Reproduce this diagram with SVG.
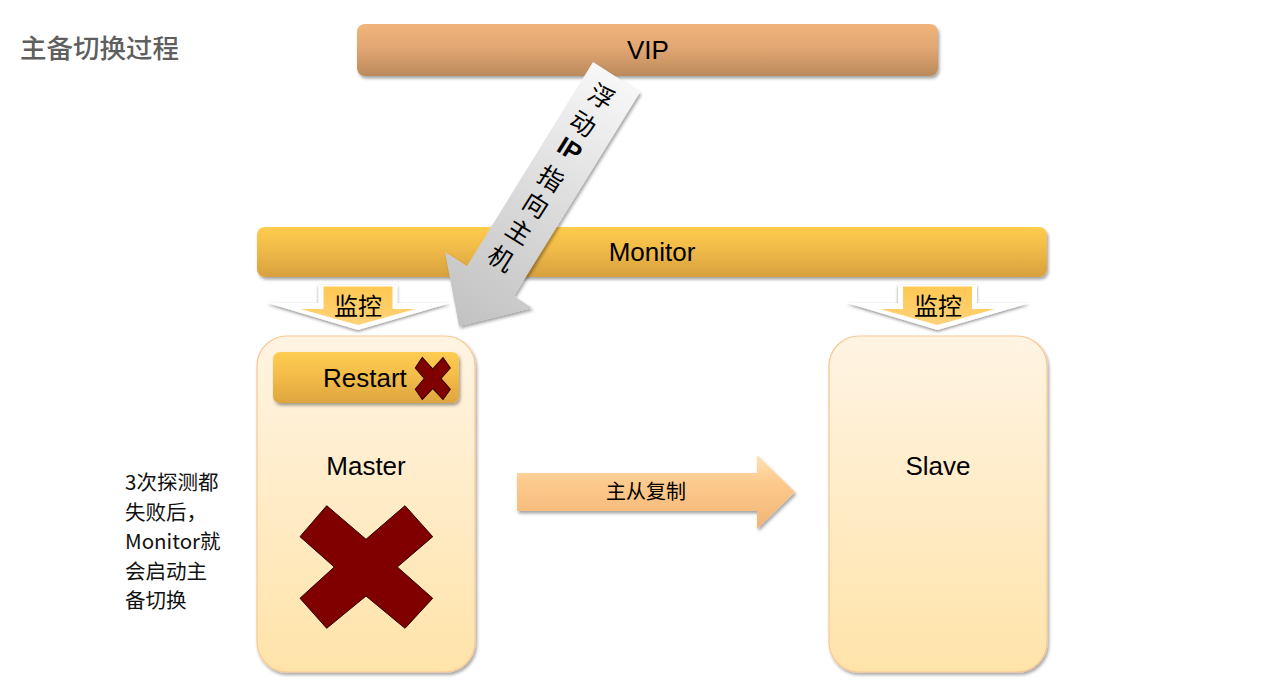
<svg xmlns="http://www.w3.org/2000/svg" width="1265" height="690" viewBox="0 0 1265 690">
<defs>
  <style>
    .lat{font-family:"Liberation Sans",Arial,sans-serif;fill:#000}
    .cjk{font-family:"Noto Sans CJK SC","Noto Sans",sans-serif;fill:#000}
    .c{text-anchor:middle}
  </style>
  <filter id="sh" x="-10%" y="-10%" width="130%" height="140%">
    <feDropShadow dx="1.5" dy="2.5" stdDeviation="1.8" flood-color="#000" flood-opacity="0.35"/>
  </filter>
  <filter id="shw" x="-10%" y="-20%" width="130%" height="160%">
    <feDropShadow dx="0" dy="1.5" stdDeviation="1.5" flood-color="#000" flood-opacity="0.45"/>
  </filter>
  <linearGradient id="gVip" x1="0" y1="0" x2="0" y2="1">
    <stop offset="0" stop-color="#F0B47B"/><stop offset="0.45" stop-color="#E2A772"/><stop offset="1" stop-color="#BB8A5C"/>
  </linearGradient>
  <linearGradient id="gMon" x1="0" y1="0" x2="0" y2="1">
    <stop offset="0" stop-color="#FFCC4D"/><stop offset="0.45" stop-color="#F0BA48"/><stop offset="1" stop-color="#D7A03E"/>
  </linearGradient>
  <linearGradient id="gBox" x1="0" y1="0" x2="0" y2="1">
    <stop offset="0" stop-color="#FFF4E3"/><stop offset="1" stop-color="#FFE3A9"/>
  </linearGradient>
  <linearGradient id="gBtn" x1="0" y1="0" x2="0" y2="1">
    <stop offset="0" stop-color="#FFCD52"/><stop offset="0.5" stop-color="#F2BB48"/><stop offset="1" stop-color="#DDA53F"/>
  </linearGradient>
  <linearGradient id="gYel" x1="0" y1="0" x2="0" y2="1">
    <stop offset="0" stop-color="#FFC852"/><stop offset="1" stop-color="#FFD27A"/>
  </linearGradient>
  <linearGradient id="gRep" x1="0" y1="0" x2="0" y2="1">
    <stop offset="0" stop-color="#FFE2B6"/><stop offset="0.35" stop-color="#FDCB8E"/><stop offset="1" stop-color="#F2B474"/>
  </linearGradient>
  <linearGradient id="gFloat" gradientUnits="userSpaceOnUse" x1="616" y1="77" x2="460" y2="326">
    <stop offset="0" stop-color="#F7F7F7"/><stop offset="0.55" stop-color="#D8D8D8"/><stop offset="1" stop-color="#C2C2C2"/>
  </linearGradient>
  <path id="bigX" d="M-39.3,-61.3 L0,-27.7 L39,-61.3 L66.7,-30.3 L31.3,0 L66.7,31.3 L39,61.3 L0,29 L-39.3,61.3 L-66,31.3 L-31.7,0 L-66,-30.3 Z"/>
</defs>
<rect width="1265" height="690" fill="#fff"/>

<g id="title">
  <text class="cjk" x="20" y="58" font-size="26.5" font-weight="500" style="fill:#5f5f5f">主备切换过程</text>
</g>

<g id="vip">
  <rect x="357" y="24" width="581" height="52" rx="8" fill="url(#gVip)" filter="url(#sh)"/>
  <text class="lat c" x="648" y="59" font-size="26">VIP</text>
</g>

<g id="monitor">
  <rect x="257" y="227" width="790" height="50" rx="8" fill="url(#gMon)" filter="url(#sh)"/>
  <text class="lat c" x="652" y="261" font-size="26">Monitor</text>
</g>

<g id="master">
  <rect x="257" y="336" width="218" height="336" rx="30" fill="url(#gBox)" stroke="#F8C893" stroke-width="1.2" filter="url(#sh)"/>
  <text class="lat c" x="366" y="475" font-size="26">Master</text>
  <use href="#bigX" transform="translate(366,567)" fill="#800000" stroke="#2a0000" stroke-width="1"/>
</g>

<g id="restart">
  <rect x="273" y="352" width="186" height="51" rx="7" fill="url(#gBtn)" filter="url(#sh)"/>
  <text class="lat" x="323" y="387" font-size="26">Restart</text>
  <use href="#bigX" transform="translate(432.7,378.5) scale(0.265,0.345)" fill="#800000" stroke="#2a0000" stroke-width="3"/>
</g>

<g id="slave">
  <rect x="829" y="336" width="218" height="336" rx="30" fill="url(#gBox)" stroke="#F8C893" stroke-width="1.2" filter="url(#sh)"/>
  <text class="lat c" x="938" y="475" font-size="26">Slave</text>
</g>

<g id="note">
  <text class="cjk" font-size="20.5" style="fill:#111">
    <tspan x="125" y="490">3次探测都</tspan>
    <tspan x="125" y="519.5">失败后，</tspan>
    <tspan x="125" y="549">Monitor就</tspan>
    <tspan x="125" y="578.5">会启动主</tspan>
    <tspan x="125" y="608">备切换</tspan>
  </text>
</g>

<g id="connectors">
  <g id="monitor-master">
    <path d="M318.5,285 H397.5 V303 H450.5 L358,330 L267.5,303 H318.5 Z" fill="#fff" filter="url(#shw)"/>
    <path d="M323.5,286.5 H392.5 V309 H415.5 L358,325 L300.5,309 H323.5 Z" fill="url(#gYel)"/>
    <text class="cjk c" x="358" y="315" font-size="24">监控</text>
  </g>
  <g id="monitor-slave">
    <path d="M898,285 H977 V303 H1030 L937.5,330 L847,303 H898 Z" fill="#fff" filter="url(#shw)"/>
    <path d="M903,286.5 H972 V309 H995 L937.5,325 L880,309 H903 Z" fill="url(#gYel)"/>
    <text class="cjk c" x="938" y="315" font-size="24">监控</text>
  </g>
  <g id="replication">
    <path d="M517,473 H757 V455 L795,492 L757,529 V511 H517 Z" fill="url(#gRep)" filter="url(#sh)"/>
    <text class="cjk c" x="646" y="499" font-size="20">主从复制</text>
  </g>
  <g id="float-ip">
    <path d="M593,62 L640,92 L514,296 L532,308 L459,326 L445,252 L467,266 Z" fill="url(#gFloat)" filter="url(#sh)"/>
    <g class="cjk" font-size="25" text-anchor="middle" dominant-baseline="central">
      <text transform="translate(602.5,95) rotate(32)">浮</text>
      <text transform="translate(584,122) rotate(32)">动</text>
      <text transform="translate(570,149) rotate(32)" font-family="Liberation Sans,sans-serif" font-weight="bold">IP</text>
      <text transform="translate(552,177) rotate(32)">指</text>
      <text transform="translate(537,203.5) rotate(32)">向</text>
      <text transform="translate(520,230) rotate(32)">主</text>
      <text transform="translate(502,257) rotate(32)">机</text>
    </g>
  </g>
</g>
</svg>
